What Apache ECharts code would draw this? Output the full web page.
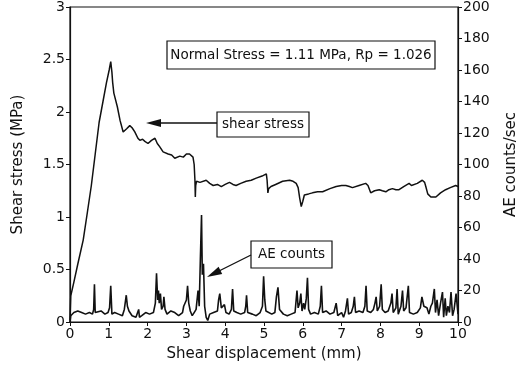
<!DOCTYPE html>
<html>
<head>
<meta charset="utf-8">
<script src="https://cdn.jsdelivr.net/npm/echarts@6/dist/echarts.min.js"></script>
<style>
  html, body { margin: 0; padding: 0; background: #fff; }
  #chart { width: 527px; height: 369px; }
</style>
</head>
<body>
<div id="chart"></div>
<script>
// shear stress (MPa) vs shear displacement (mm)
const shearStress = [
    [0, 0.02], [0.02, 0.25], [0.10, 0.38], [0.20, 0.55], [0.34, 0.78], [0.45, 1.05],
    [0.55, 1.30], [0.65, 1.60], [0.75, 1.90], [0.85, 2.10], [0.94, 2.28],
    [1.01, 2.40], [1.05, 2.48], [1.08, 2.38], [1.10, 2.28], [1.13, 2.18], [1.22, 2.05],
    [1.29, 1.92], [1.37, 1.81], [1.46, 1.84], [1.54, 1.87], [1.60, 1.85], [1.67, 1.81],
    [1.75, 1.75], [1.80, 1.73], [1.87, 1.74], [1.93, 1.72], [2.01, 1.70], [2.10, 1.73],
    [2.19, 1.75], [2.25, 1.70], [2.31, 1.67], [2.40, 1.62], [2.53, 1.60], [2.62, 1.59],
    [2.70, 1.56], [2.83, 1.58], [2.92, 1.57], [3.00, 1.60], [3.08, 1.60], [3.17, 1.57],
    [3.20, 1.50], [3.22, 1.35], [3.23, 1.19], [3.24, 1.30], [3.26, 1.34], [3.35, 1.33],
    [3.51, 1.35], [3.60, 1.32], [3.69, 1.30], [3.80, 1.31], [3.90, 1.29], [4.00, 1.31],
    [4.11, 1.33], [4.20, 1.31], [4.28, 1.30], [4.40, 1.32], [4.54, 1.34], [4.67, 1.35],
    [4.80, 1.37], [4.95, 1.39], [5.06, 1.41], [5.08, 1.35], [5.10, 1.23], [5.12, 1.27],
    [5.18, 1.29], [5.30, 1.31], [5.48, 1.34], [5.66, 1.35], [5.75, 1.34], [5.83, 1.32],
    [5.88, 1.28], [5.92, 1.18], [5.96, 1.10], [6.00, 1.15], [6.04, 1.21], [6.15, 1.22],
    [6.25, 1.23], [6.38, 1.24], [6.51, 1.24], [6.70, 1.27], [6.86, 1.29], [7.00, 1.30],
    [7.11, 1.30], [7.20, 1.29], [7.28, 1.28], [7.45, 1.30], [7.62, 1.32], [7.68, 1.30],
    [7.75, 1.23], [7.85, 1.25], [7.97, 1.26], [8.05, 1.25], [8.14, 1.24], [8.22, 1.26],
    [8.31, 1.27], [8.40, 1.26], [8.48, 1.26], [8.60, 1.29], [8.74, 1.32], [8.80, 1.30],
    [8.83, 1.29], [8.95, 1.32], [9.08, 1.35], [9.14, 1.33], [9.17, 1.29], [9.22, 1.22],
    [9.30, 1.19], [9.43, 1.19], [9.55, 1.23], [9.68, 1.26], [9.80, 1.28], [9.94, 1.30],
    [10, 1.29]
];

// AE counts/sec vs shear displacement (mm)
const aeCounts = [
    [0, 0], [0.02, 4], [0.10, 6], [0.20, 7], [0.30, 6], [0.40, 5], [0.50, 6], [0.58, 5],
    [0.61, 8], [0.63, 24], [0.65, 6], [0.70, 5], [0.80, 7], [0.90, 5], [0.98, 6], [1.02, 9],
    [1.05, 23], [1.08, 5], [1.15, 6], [1.25, 5], [1.35, 4], [1.40, 8], [1.45, 17], [1.48, 10],
    [1.52, 7], [1.60, 4], [1.70, 3], [1.75, 4], [1.77, 8], [1.79, 3], [1.85, 4], [1.95, 6],
    [2.05, 5], [2.15, 6], [2.20, 12], [2.23, 31], [2.26, 14], [2.28, 20], [2.30, 12], [2.33, 18],
    [2.36, 8], [2.40, 10], [2.42, 16], [2.45, 8], [2.50, 5], [2.60, 7], [2.70, 6], [2.80, 4],
    [2.90, 6], [2.93, 10], [2.96, 9], [3.00, 14], [3.03, 23], [3.06, 12], [3.10, 7], [3.15, 4],
    [3.20, 6], [3.25, 8], [3.30, 20], [3.33, 10], [3.36, 40], [3.39, 68], [3.41, 30], [3.44, 37],
    [3.47, 10], [3.51, 3], [3.55, 1], [3.60, 5], [3.70, 6], [3.80, 7], [3.83, 14], [3.86, 18],
    [3.90, 9], [3.95, 8], [3.98, 11], [4.02, 6], [4.10, 5], [4.16, 8], [4.19, 21], [4.22, 7],
    [4.30, 6], [4.40, 5], [4.50, 6], [4.53, 10], [4.55, 17], [4.58, 6], [4.70, 5], [4.80, 4],
    [4.90, 6], [4.96, 10], [4.99, 29], [5.02, 14], [5.05, 7], [5.10, 6], [5.20, 5], [5.28, 6],
    [5.32, 16], [5.36, 22], [5.40, 8], [5.50, 5], [5.60, 4], [5.70, 5], [5.80, 6], [5.85, 20],
    [5.88, 9], [5.92, 12], [5.95, 18], [5.98, 7], [6.02, 12], [6.05, 8], [6.09, 15], [6.12, 28],
    [6.15, 8], [6.20, 5], [6.30, 6], [6.40, 5], [6.45, 10], [6.48, 23], [6.51, 6], [6.60, 7],
    [6.70, 5], [6.80, 6], [6.86, 12], [6.90, 4], [7.00, 6], [7.05, 3], [7.10, 7], [7.15, 15],
    [7.18, 5], [7.25, 6], [7.30, 10], [7.33, 16], [7.36, 6], [7.45, 7], [7.55, 6], [7.60, 10],
    [7.63, 23], [7.66, 7], [7.75, 6], [7.82, 8], [7.86, 12], [7.89, 16], [7.92, 7], [7.98, 10],
    [8.02, 24], [8.05, 8], [8.12, 6], [8.20, 7], [8.27, 12], [8.30, 18], [8.33, 6], [8.40, 9],
    [8.43, 21], [8.46, 5], [8.53, 10], [8.57, 20], [8.60, 7], [8.66, 9], [8.72, 23], [8.75, 6],
    [8.85, 5], [8.95, 6], [9.03, 9], [9.07, 16], [9.12, 10], [9.20, 9], [9.25, 5], [9.30, 10],
    [9.34, 12], [9.39, 21], [9.42, 6], [9.46, 14], [9.50, 4], [9.55, 12], [9.60, 19], [9.63, 3],
    [9.67, 15], [9.70, 4], [9.74, 10], [9.78, 6], [9.82, 19], [9.86, 4], [9.90, 8], [9.95, 18],
    [10, 5]
];

const xTicks = { min: 0, max: 10, interval: 1 };
const stressTicks = { min: 0, max: 3, interval: 0.5 };
const aeTicks = { min: 0, max: 200, interval: 20 };

const infoText = 'Normal Stress = 1.11 MPa, Rp = 1.026';
const stressLabel = 'shear stress';
const aeLabel = 'AE counts';

const font = 'DejaVu Sans';
const ink = '#111';

const chart = echarts.init(document.getElementById('chart'), null, { renderer: 'canvas' });

const axisCommon = {
    axisLine: { show: true, lineStyle: { color: ink, width: 1.2 } },
    axisTick: { show: true, length: 4, lineStyle: { color: ink, width: 1 } },
    splitLine: { show: false },
    axisLabel: { color: ink, fontFamily: font, fontSize: 14, margin: 5 },
    nameTextStyle: { color: ink, fontFamily: font, fontSize: 15 }
};

const boxText = (x, y, w, h, text) => ({
    type: 'group',
    children: [
        { type: 'rect', shape: { x: x, y: y, width: w, height: h },
          style: { fill: '#fff', stroke: ink, lineWidth: 1.2 } },
        { type: 'text', x: x + w / 2, y: y + h / 2,
          style: { text: text, fill: ink, font: '13.5px "' + font + '"', align: 'center', verticalAlign: 'middle' } }
    ]
});

chart.setOption({
    animation: false,
    backgroundColor: '#fff',
    grid: { left: 70, right: 68, top: 7, bottom: 47, show: true, borderColor: ink, borderWidth: 1.2 },
    xAxis: Object.assign({}, axisCommon, {
        type: 'value', min: xTicks.min, max: xTicks.max, interval: xTicks.interval,
        name: 'Shear displacement (mm)', nameLocation: 'middle', nameGap: 25
    }),
    yAxis: [
        Object.assign({}, axisCommon, {
            type: 'value', min: stressTicks.min, max: stressTicks.max, interval: stressTicks.interval,
            name: 'Shear stress (MPa)', nameLocation: 'middle', nameGap: 44, nameRotate: 90
        }),
        Object.assign({}, axisCommon, {
            type: 'value', position: 'right', min: aeTicks.min, max: aeTicks.max, interval: aeTicks.interval,
            name: 'AE counts/sec', nameLocation: 'middle', nameGap: 46, nameRotate: 90
        })
    ],
    series: [
        { name: 'shear stress', type: 'line', data: shearStress, yAxisIndex: 0,
          showSymbol: false, lineStyle: { color: ink, width: 1.5 } },
        { name: 'AE counts', type: 'line', data: aeCounts, yAxisIndex: 1,
          showSymbol: false, lineStyle: { color: ink, width: 1.6 } }
    ],
    graphic: [
        boxText(167, 41, 268, 28, infoText),
        boxText(217, 112, 92, 25, stressLabel),
        boxText(251, 241, 81, 27, aeLabel),
        // arrows
        { type: 'line', shape: { x1: 217, y1: 123, x2: 158, y2: 123 }, style: { stroke: ink, lineWidth: 1.3 } },
        { type: 'polygon', shape: { points: [[146, 123], [161, 119], [161, 127]] }, style: { fill: ink } },
        { type: 'line', shape: { x1: 251, y1: 255, x2: 219, y2: 271 }, style: { stroke: ink, lineWidth: 1.3 } },
        { type: 'polygon', shape: { points: [[207, 277], [222.2, 273.9], [218.6, 266.7]] }, style: { fill: ink } }
    ]
});
</script>
</body>
</html>
